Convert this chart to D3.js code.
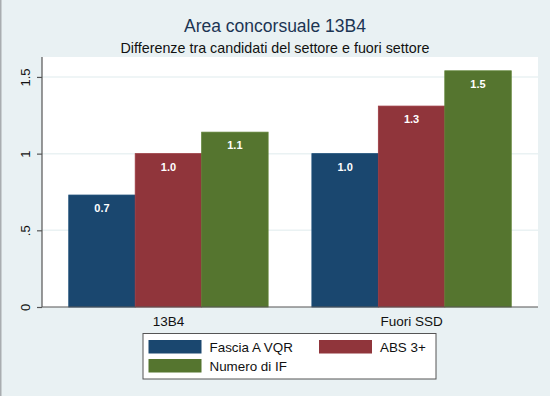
<!DOCTYPE html>
<html>
<head>
<meta charset="utf-8">
<script src="https://cdn.jsdelivr.net/npm/d3@7"></script>
<style>
  body { margin: 0; background: #e9f1f3; }
  svg { display: block; font-family: "Liberation Sans", Arial, Helvetica, sans-serif; }
</style>
</head>
<body>
<div id="chart"></div>
<script>
const categories = ['13B4', 'Fuori SSD']
const seriesNames = ['Fascia A VQR', 'ABS 3+', 'Numero di IF']
const fasciaA = [0.73, 1.0]
const abs3 = [1.0, 1.31]
const numeroIF = [1.14, 1.54]
const yTicks = [0, 0.5, 1, 1.5]
const yTickLabels = ['0', '.5', '1', '1.5']

const colors = ['#1a476f', '#90353b', '#55752f']

const width = 550
const height = 396
const margin = { top: 57, right: 12, bottom: 89, left: 42 }

const svg = d3.select('#chart').append('svg')
  .attr('width', width)
  .attr('height', height)

svg.append('rect')
  .attr('width', width)
  .attr('height', height)
  .attr('fill', '#e9f1f3')

svg.append('line')
  .attr('x1', 0.75).attr('x2', 0.75)
  .attr('y1', 0).attr('y2', height)
  .attr('stroke', '#a9adb0')
  .attr('stroke-width', 1.5)

// titles
svg.append('text')
  .attr('x', 275)
  .attr('y', 32)
  .attr('text-anchor', 'middle')
  .attr('font-size', 17.5)
  .attr('fill', '#1c3553')
  .text('Area concorsuale 13B4')

svg.append('text')
  .attr('x', 275)
  .attr('y', 52.5)
  .attr('text-anchor', 'middle')
  .attr('font-size', 14.3)
  .attr('fill', '#111')
  .text('Differenze tra candidati del settore e fuori settore')

const plotLeft = margin.left
const plotRight = width - margin.right
const plotTop = margin.top
const plotBottom = height - margin.bottom

const x0 = d3.scaleBand()
  .domain(categories)
  .range([plotLeft, plotRight])
  .paddingInner(0.18)
  .paddingOuter(0.11)

const x1 = d3.scaleBand()
  .domain(seriesNames)
  .range([0, x0.bandwidth()])

const y = d3.scaleLinear()
  .domain([0, 1.63])
  .range([plotBottom, plotTop])

// plot region
svg.append('rect')
  .attr('x', plotLeft)
  .attr('y', plotTop)
  .attr('width', plotRight - plotLeft)
  .attr('height', plotBottom - plotTop)
  .attr('fill', '#ffffff')

// gridlines
svg.append('g')
  .selectAll('line')
  .data(yTicks.filter(d => d > 0))
  .enter().append('line')
  .attr('x1', plotLeft)
  .attr('x2', plotRight)
  .attr('y1', d => y(d))
  .attr('y2', d => y(d))
  .attr('stroke', '#eaf2f3')
  .attr('stroke-width', 1.5)

// bars
const rows = categories.map((c, i) => ({
  category: c,
  values: [fasciaA[i], abs3[i], numeroIF[i]]
}))

const groups = svg.append('g')
  .selectAll('g')
  .data(rows)
  .enter().append('g')
  .attr('transform', d => `translate(${x0(d.category)},0)`)

groups.selectAll('rect')
  .data(d => d.values.map((v, j) => ({ name: seriesNames[j], value: v, j })))
  .enter().append('rect')
  .attr('x', d => x1(d.name))
  .attr('y', d => y(d.value))
  .attr('width', x1.bandwidth())
  .attr('height', d => y(0) - y(d.value))
  .attr('fill', d => colors[d.j])
  .attr('stroke', d => d3.color(colors[d.j]).brighter(0.25))
  .attr('stroke-width', 0.8)

groups.selectAll('text')
  .data(d => d.values.map((v, j) => ({ name: seriesNames[j], value: v })))
  .enter().append('text')
  .attr('x', d => x1(d.name) + x1.bandwidth() / 2)
  .attr('y', d => y(d.value) + 17)
  .attr('text-anchor', 'middle')
  .attr('font-size', 11)
  .attr('font-weight', 'bold')
  .attr('fill', '#ffffff')
  .text(d => d3.format('.1f')(d.value))

// y axis
const yAxis = d3.axisLeft(y)
  .tickValues(yTicks)
  .tickSize(5)
  .tickFormat((d, i) => yTickLabels[i])

const gy = svg.append('g')
  .attr('transform', `translate(${plotLeft},0)`)
  .call(yAxis)

gy.select('.domain').attr('stroke', '#555').attr('stroke-width', 1.2)
  .attr('d', `M0,${plotTop}V${plotBottom}`)
gy.selectAll('.tick line').attr('stroke', '#555').attr('stroke-width', 1.2)
gy.selectAll('.tick text')
  .attr('font-size', 13)
  .attr('fill', '#111')
  .attr('x', null)
  .attr('dy', null)
  .attr('text-anchor', 'middle')
  .attr('transform', 'translate(-12,0) rotate(-90)')
  .attr('y', 0)

// x axis
const xAxis = d3.axisBottom(x0).tickSize(0).tickPadding(9)
const gx = svg.append('g')
  .attr('transform', `translate(0,${plotBottom})`)
  .call(xAxis)
gx.select('.domain').attr('stroke', '#555').attr('stroke-width', 1.2)
  .attr('d', `M${plotLeft},0H${plotRight}`)
gx.selectAll('.tick text').attr('font-size', 13.5).attr('fill', '#111')

// legend
const legend = svg.append('g')
  .attr('transform', 'translate(143,333.5)')

legend.append('rect')
  .attr('width', 293)
  .attr('height', 45.5)
  .attr('fill', '#ffffff')
  .attr('stroke', '#555')
  .attr('stroke-width', 1)

const legendPos = [[5.5, 6.5], [176, 6.5], [5.5, 25.5]]

const items = legend.selectAll('g.item')
  .data(seriesNames)
  .enter().append('g')
  .attr('class', 'item')
  .attr('transform', (d, i) => `translate(${legendPos[i][0]},${legendPos[i][1]})`)

items.append('rect')
  .attr('width', 53)
  .attr('height', 13.5)
  .attr('fill', (d, i) => colors[i])

items.append('text')
  .attr('x', 61)
  .attr('y', 11.5)
  .attr('font-size', 13.4)
  .attr('fill', '#111')
  .text(d => d)
</script>
</body>
</html>
